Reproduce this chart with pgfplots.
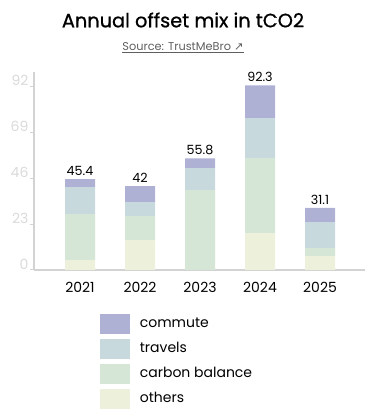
\documentclass[border=0pt]{standalone}
\usepackage{fontspec}
\setmainfont{Poppins}
\newfontfamily\titlefont[FakeBold=0.9]{Poppins}
\newfontfamily\dejavu{DejaVu Sans}
\usepackage{pgfplots}
\pgfplotsset{compat=1.18}
\usepackage{pgfplotstable}
\definecolor{cCommute}{RGB}{174,176,212}
\definecolor{cTravels}{RGB}{200,217,221}
\definecolor{cCarbon}{RGB}{213,229,214}
\definecolor{cOthers}{RGB}{237,240,218}
\definecolor{axisgray}{RGB}{211,211,211}
\definecolor{ticklab}{RGB}{218,218,218}
\definecolor{srcgray}{RGB}{95,95,95}
\pgfplotstableread{
x others carbon travels commute total
0 5 23 13.5 3.9 45.4
1 15 12 7 8 42
2 0 40 11 4.8 55.8
3 18.5 37.5 20 16.3 92.3
4 7 4 13 7.1 31.1
}\data
\begin{document}
\begin{tikzpicture}
\path (0pt,0pt) rectangle (285pt,313.5pt);
\node[font=\titlefont\fontsize{14.5}{16}\selectfont, text=black] at (137.25pt,298.5pt) {Annual offset mix in tCO2};
\node[font=\fontsize{8.5}{10}\selectfont, text=srcgray] at (137.25pt,277.5pt) {\underline{Source: TrustMeBro {\dejavu ↗}}};
\begin{axis}[
  at={(25.5pt,111pt)}, anchor=south west,
  scale only axis, width=248.25pt, height=148.5pt,
  ybar stacked, bar width=22.5pt,
  xmin=-0.767, xmax=4.75, ymin=0, ymax=99,
  axis x line*=bottom, axis y line*=left,
  axis line style={axisgray, line width=1.5pt, -},
  xtick=data, xticklabels={2021,2022,2023,2024,2025},
  x tick style={draw=none},
  ytick={0,23,46,69,92},
  y tick style={draw=axisgray, line width=0.75pt},
  tick align=outside, major tick length=3pt,
  yticklabel style={anchor=south east, inner sep=0pt, text=ticklab, font=\fontsize{10.5}{12}\selectfont, xshift=-1pt},
  xticklabel style={anchor=north, inner sep=0pt, text=black, font=\fontsize{10.5}{12}\selectfont},
  x tick label style={yshift=-6pt},
  /pgf/number format/assume math mode=true,
  legend image code/.code={\fill[#1] (0pt,-7.5pt) rectangle (22.5pt,7.5pt);},
  reverse legend,
  legend style={draw=none, fill=none, at={(0.199,-0.222)}, anchor=north west, inner sep=0pt, outer sep=0pt,
    font=\fontsize{10.5}{12}\selectfont, row sep=3.75pt,
    nodes={inner sep=0pt, text height=8pt, text depth=2pt},
    /tikz/every odd column/.append style={column sep=7.5pt}},
  legend cell align=left,
]
\addplot[fill=cOthers, draw=none] table[x=x, y=others] {\data};
\addplot[fill=cCarbon, draw=none] table[x=x, y=carbon] {\data};
\addplot[fill=cTravels, draw=none] table[x=x, y=travels] {\data};
\addplot[fill=cCommute, draw=none] table[x=x, y=commute] {\data};
\legend{others, carbon balance, travels, commute}
\end{axis}
\begin{axis}[
  at={(25.5pt,111pt)}, anchor=south west,
  scale only axis, width=248.25pt, height=148.5pt,
  xmin=-0.767, xmax=4.75, ymin=0, ymax=99,
  hide axis, clip=false,
]
\addplot[only marks, mark=none, nodes near coords, point meta=explicit symbolic,
  every node near coord/.style={font=\fontsize{9.5}{11}\selectfont, text=black, inner sep=0pt, anchor=south, text height=7pt, text depth=0pt, yshift=2.5pt}]
  table[x=x, y=total, meta=total] {\data};
\end{axis}
\end{tikzpicture}
\end{document}
